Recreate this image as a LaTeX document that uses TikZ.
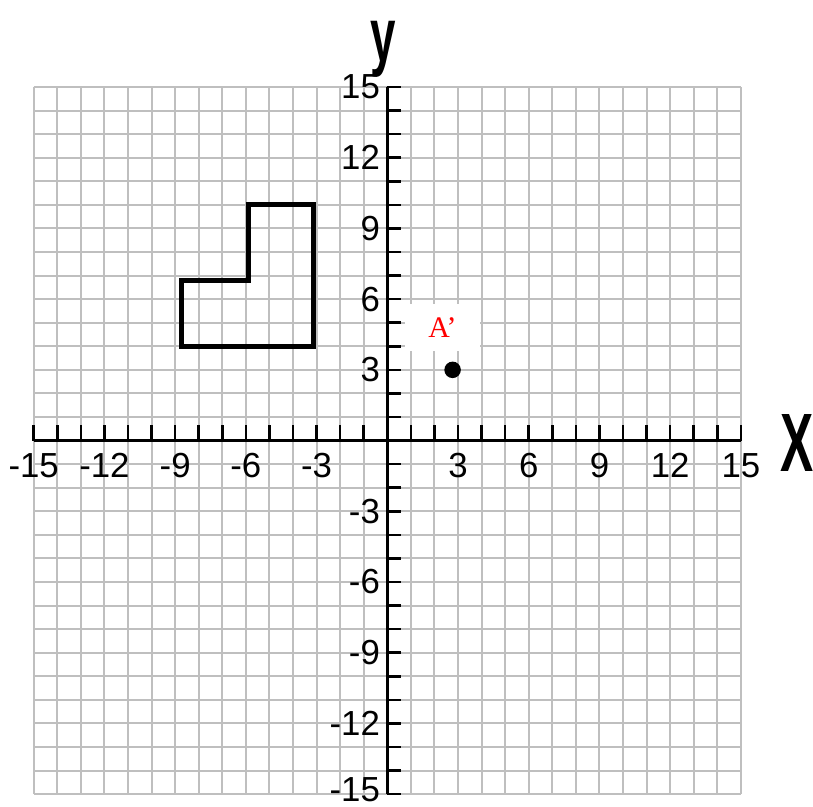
\documentclass[tikz,border=0pt]{standalone}
\usepackage{fontspec}
\setmainfont{Liberation Sans}
\newfontfamily\serifA{Liberation Serif}
\usetikzlibrary{positioning}
\tikzset{
  gridline/.style={gray!50,line width=1.2pt},
  axisline/.style={line width=2pt},
  tickline/.style={line width=1.6pt},
  ticklabel/.style={font=\fontsize{21}{21}\selectfont,inner sep=0pt},
  axisname/.style={font=\bfseries\fontsize{50}{50}\selectfont,xscale=0.6,inner sep=0pt},
  shapeline/.style={line width=3pt,line join=miter}
}
\begin{document}
\begin{tikzpicture}[x=0.5cm,y=0.5cm]
\useasboundingbox (-16.43,-15.52) rectangle (18.06,18.69);
\draw [gridline,step=0.5cm] (-15,-15) grid (15,15);
\coordinate (xl) at (-15,0);
\coordinate (xr) at (15,0);
\coordinate (yb) at (0,-15);
\coordinate (yt) at (0,15);
\draw [axisline] (xl) -- (xr);
\draw [axisline] (yb) -- (yt);
\draw [tickline] \foreach \x in {-15,...,15} {(\x,0) -- (\x,0.64)};
\draw [tickline] \foreach \y in {-15,...,15} {(0,\y) -- (0.6,\y)};
\foreach \x in {-15,-12,...,15} {
  \ifnum\x=0\else \node[ticklabel] (lx\x) at (\x,-1.05) {\x}; \fi}
\foreach \y in {-12,-9,...,15} {
  \ifnum\y=0\else \node[ticklabel,anchor=east] (ly\y) at (-0.3,\y) {\y}; \fi}
\node[ticklabel,anchor=east] (ly-15) at (-0.3,-14.8) {-15};
\node[axisname] (xname) at (17.38,-0.1) {X};
\node[axisname,font=\bfseries\fontsize{46}{46}\selectfont] (yname) at (-0.18,16.6) {y};
% L shape
\draw [shapeline] (-8.75,4) -- (-3.15,4) -- (-3.15,10) -- (-5.9,10)
  -- (-5.9,6.8) -- (-8.75,6.8) -- cycle;
% point A'
\node[fill=white,minimum width=1.6cm,minimum height=1cm,inner sep=0pt,
  text=red,font=\serifA\fontsize{18}{18}\selectfont] (alabel) at (2.34,4.81) {A’};
\fill (2.77,3) circle (0.35) coordinate (apt);
\end{tikzpicture}
\end{document}
